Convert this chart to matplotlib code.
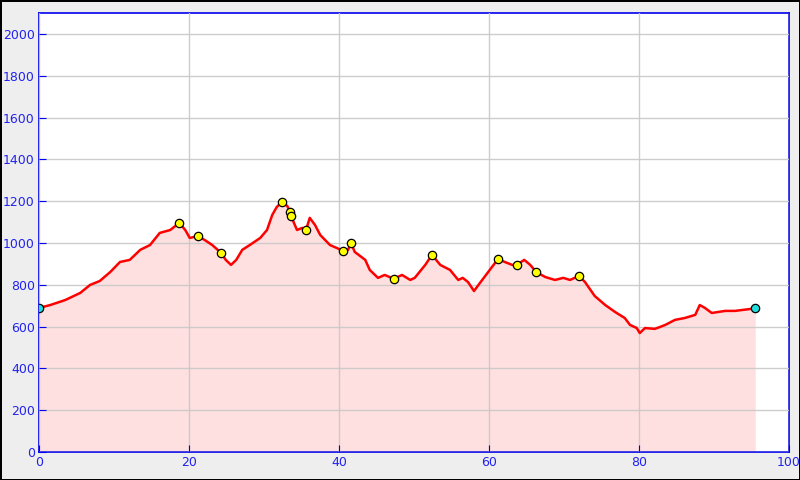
import matplotlib.pyplot as plt

# 距离(km)和海拔(m)
dist = [0, 1.5, 3.5, 5.5, 6.8, 8.1, 9.5, 10.8, 12.1, 13.5, 14.8, 16.1, 17.5, 18.7, 19.5, 20.1,
        21.2, 22.1, 23.1, 24.3, 24.9, 25.6, 26.3, 27.1, 28.1, 29.5, 30.4, 31.1, 31.7, 32.4,
        33.1, 33.5, 33.6, 34.4, 35.1, 35.6, 36.1, 36.8, 37.5, 38.8, 39.7, 40.5, 41.2, 41.6,
        42.1, 43.5, 44.1, 45.2, 46.1, 47.3, 48.4, 49.5, 50.1, 51.5, 52.4, 53.5, 54.8, 55.9,
        56.5, 57.2, 58.0, 58.8, 60.1, 61.2, 62.1, 63.1, 63.7, 64.7, 65.5, 66.3, 67.5, 68.8,
        69.9, 70.8, 72.0, 72.8, 74.1, 75.5, 76.8, 78.1, 78.8, 79.7, 80.1, 80.8, 82.1, 82.8,
        83.5, 84.8, 86.1, 87.5, 88.1, 88.8, 89.7, 91.5, 92.8, 93.7, 94.8, 95.5]
elev = [689, 703, 727, 761, 799, 818, 861, 909, 919, 967, 990, 1048, 1062, 1096, 1062, 1024,
        1033, 1014, 990, 952, 919, 895, 919, 967, 990, 1024, 1062, 1134, 1172, 1196,
        1177, 1148, 1129, 1062, 1072, 1062, 1120, 1086, 1038, 990, 976, 962, 967, 1000,
        957, 919, 871, 833, 847, 828, 847, 823, 833, 895, 943, 895, 871, 823,
        833, 813, 770, 809, 871, 923, 909, 895, 895, 919, 895, 861, 837, 823,
        833, 823, 842, 813, 746, 703, 670, 641, 608, 593, 569, 593, 589, 598,
        608, 632, 641, 656, 703, 689, 665, 675, 675, 679, 684, 689]

# 途经点
way_dist = [18.7, 21.2, 24.3, 32.4, 33.5, 33.6, 35.6, 40.5, 41.6, 47.3, 52.4, 61.2, 63.7, 66.3, 72.0]
way_elev = [1096, 1033, 952, 1196, 1148, 1129, 1062, 962, 1000, 828, 943, 923, 895, 861, 842]

# 起点和终点
end_dist = [0, 95.5]
end_elev = [689, 689]

blue = '#0000ee'

fig = plt.figure(figsize=(8, 4.8), dpi=100, facecolor='#eeeeee',
                 edgecolor='black', linewidth=2)
ax = fig.add_axes([39 / 800, 28 / 480, 750 / 800, 439 / 480])

ax.fill_between(dist, elev, 0, color='#ffe0e0', zorder=1, linewidth=0)
ax.plot(dist, elev, color='#ff0000', linewidth=1.8, zorder=3)
ax.plot(way_dist, way_elev, 'o', color='#ffff00', markeredgecolor='black',
        markersize=6, markeredgewidth=0.9, zorder=4)
ax.plot(end_dist, end_elev, 'o', color='#22dddd', markeredgecolor='black',
        markersize=6, markeredgewidth=0.9, zorder=4)

ax.set_xlim(0, 100)
ax.set_ylim(0, 2100)
ax.set_xticks(range(0, 101, 20))
ax.set_yticks(range(0, 2001, 200))
ax.grid(True, color='#c8c8c8', linewidth=1, zorder=2)
ax.set_axisbelow(False)
for line in ax.get_xgridlines() + ax.get_ygridlines():
    line.set_zorder(2)
    line.set_alpha(0.9)

for s in ax.spines.values():
    s.set_color(blue)
    s.set_linewidth(1.2)
ax.tick_params(direction='in', length=5, color=blue, labelcolor='#2222ee',
               labelsize=9, pad=3)

fig.savefig('out.png', dpi=100, facecolor=fig.get_facecolor(), edgecolor='black')
